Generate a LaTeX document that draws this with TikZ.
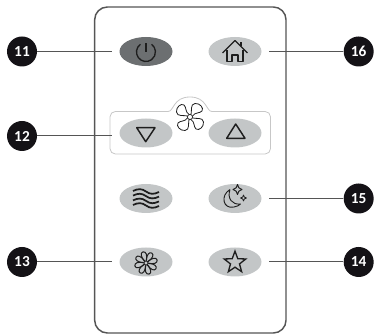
\documentclass[tikz,border=0pt]{standalone}
\usepackage{fontspec}
\setmainfont{Carlito}
\usetikzlibrary{arrows.meta, positioning, shapes.geometric}

\definecolor{btngray}{HTML}{C3C6C7}
\definecolor{btndark}{HTML}{6C6F71}
\definecolor{inkgray}{HTML}{555555}
\definecolor{tagblack}{HTML}{141216}
\definecolor{iconink}{HTML}{1E1E1E}

\begin{document}
\begin{tikzpicture}[x=0.75pt, y=-0.75pt,
	tag/.style={circle, draw=none, fill=tagblack, text=white, inner sep=0pt, minimum size=22.5pt, font=\fontsize{11.5}{12}\selectfont\bfseries},
	btn/.style={ellipse, draw=none, fill=btngray, inner sep=0pt, minimum width=39.75pt, minimum height=21.75pt},
	leader/.style={draw=inkgray, line width=0.75pt, shorten >=5.25pt},
	icon/.style={draw=iconink, line width=1pt, line join=round},
	thin icon/.style={draw=iconink, line width=0.6pt, line join=round}]
	\useasboundingbox (0,0) rectangle (376,334);

	% Body of the remote
	\draw[draw=inkgray, line width=1.1pt, rounded corners=9.5pt] (94.7,7) rectangle (286,333);

	% Fan panel
	\draw[draw=black!22, line width=0.6pt, rounded corners=4pt] (168,111.5) -- (110,111.5) -- (110,154) -- (270.5,154) -- (270.5,111.5) -- (212,111.5);
	\draw[draw=black!22, line width=0.6pt] (168,111.5) .. controls (174,111.5) and (173,97) .. (190,97) .. controls (207,97) and (206,111.5) .. (212,111.5);

	% Buttons
	\node[btn, fill=btndark] (power) at (146,51.5) {};
	\node[btn] (home) at (235,51.5) {};
	\node[btn] (down) at (146,133) {};
	\node[btn] (up) at (235,133) {};
	\node[btn] (wave) at (146,198.5) {};
	\node[btn] (moon) at (235,198.5) {};
	\node[btn] (flower) at (146,262) {};
	\node[btn] (fav) at (235,262) {};

	% Numbered tags
	\node[tag] (t11) at (22,51.5) {11};
	\node[tag] (t12) at (22,136) {12};
	\node[tag] (t13) at (22,262) {13};
	\node[tag] (t14) at (358.7,262) {14};
	\node[tag] (t15) at (358.7,198.5) {15};
	\node[tag] (t16) at (358.7,51.5) {16};

	% Leaders
	\draw[leader] (t11) -- (power);
	\draw[leader] (t12) -- (t12 -| down.west);
	\draw[leader] (t13) -- (flower);
	\draw[leader] (t14) -- (fav);
	\draw[leader] (t15) -- (moon);
	\draw[leader] (t16) -- (home);

	% Power icon
	\begin{scope}[shift={(power)}]
		\draw[icon] (-5.6,-7.2) arc[start angle=234, end angle=-54, radius=9.5];
		\draw[icon] (0,-8) -- (0,1);
	\end{scope}

	% Arrows
	\draw[icon, line width=1.1pt] (136.7,127.7) -- (155,127.7) -- (145.7,141.7) -- cycle;
	\draw[icon, line width=1.1pt] (226.7,138.3) -- (245,138.3) -- (235.7,124) -- cycle;

	% Fan
	\begin{scope}[shift={(190,117)}]
		\draw[thin icon] (0,0) circle[radius=2.6];
		\foreach \a in {0,90,180,270}
			\draw[thin icon, rotate=\a] (1,-2.6) .. controls (2,-6) and (0,-13) .. (5,-13.5) .. controls (10,-14) and (14,-9) .. (12,-6) .. controls (10,-3.5) and (5,-5) .. (2.6,-1);
	\end{scope}

	% Home icon
	\begin{scope}[shift={(home)}]
		\draw[icon] (-12.5,1.5) -- (0,-11) -- (12.5,1.5);
		\draw[icon] (-8,-1) -- (-8,10) -- (-3,10) -- (-3,3.5) -- (3,3.5) -- (3,10) -- (8,10) -- (8,-1);
		\draw[icon] (6,-5) -- (6,-9.5);
	\end{scope}

	% Wave icon
	\begin{scope}[shift={(wave)}]
		\foreach \y in {-7,-2.4,2.4,7}
			\draw[icon, line width=1.3pt] (-13,\y-0.5) .. controls (-8,\y-3) and (-4,\y-3) .. (0,\y) .. controls (4,\y+3) and (8,\y+3) .. (13,\y+0.5);
	\end{scope}

	% Moon icon
	\begin{scope}[shift={(moon)}]
		\draw[thin icon, line width=0.7pt] (-5,-9) .. controls (-15,-3) and (-12,11) .. (-1,8.5) .. controls (2,8) and (4,7) .. (5.5,5.5) .. controls (-3,6.5) and (-8,0) .. (-5,-9);
		\draw[thin icon, line width=0.7pt] (2.5,-14) .. controls (3,-11) and (4,-10) .. (7,-9) .. controls (4,-8) and (3,-7) .. (2.5,-4) .. controls (2,-7) and (1,-8) .. (-2,-9) .. controls (1,-10) and (2,-11) .. (2.5,-14) -- cycle;
		\draw[thin icon] (8.5,-3.5) .. controls (8.8,-1.5) and (9.5,-1) .. (11.5,-0.5) .. controls (9.5,0) and (8.8,0.5) .. (8.5,2.5) .. controls (8.2,0.5) and (7.5,0) .. (5.5,-0.5) .. controls (7.5,-1) and (8.2,-1.5) .. (8.5,-3.5) -- cycle;
	\end{scope}

	% Flower icon
	\begin{scope}[shift={(flower)}]
		\draw[thin icon] (0,1) circle[radius=2];
		\foreach \a in {0,45,...,315}
			\draw[thin icon, line width=0.75pt, shift={(0,1)}, rotate=\a+15] (-0.8,-2.2) .. controls (-3.6,-7) and (-3,-11.5) .. (0,-11.5) .. controls (3,-11.5) and (3.6,-7) .. (0.8,-2.2);
	\end{scope}

	% Star icon
	\node[star, star points=5, star point ratio=2.4, draw=iconink, line width=1pt, inner sep=0pt, minimum size=17pt] (favstar) at (235,262.5) {};
\end{tikzpicture}
\end{document}
